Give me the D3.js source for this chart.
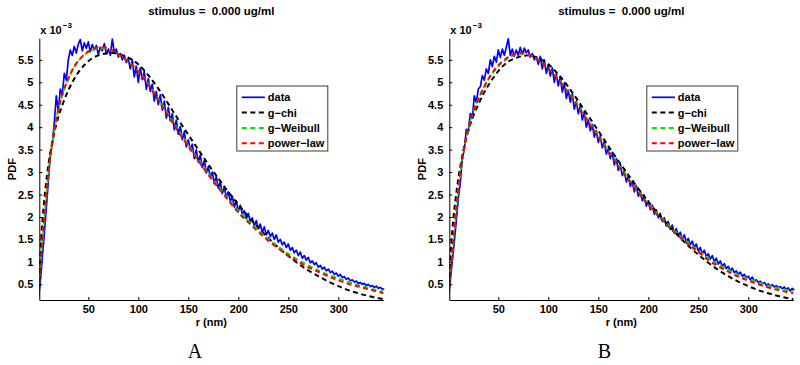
<!DOCTYPE html>
<html>
<head>
<meta charset="utf-8">
<script src="https://cdn.jsdelivr.net/npm/d3@7"></script>
<style>
    body { margin: 0; background: #fff; }
    svg text { font-family: "Liberation Sans", Arial, sans-serif; font-weight: bold; fill: #000; }
</style>
</head>
<body>
<div id="chart"></div>
<script>
// Axis limits (x in nm, y in units of 1e-3)
const xLimits = [1, 345];
const yLimits = [0.15, 5.98];
const xTicks = [50, 100, 150, 200, 250, 300];
const yTicks = [0.5, 1, 1.5, 2, 2.5, 3, 3.5, 4, 4.5, 5, 5.5];
const seriesNames = ["data", "g\u2212chi", "g\u2212Weibull", "power\u2212law"];
const seriesColors = ["#0000ff", "#000000", "#00e600", "#ff0000"];

// measured histogram, one value every 2 nm (r = 0, 2, ..., 346)
const dataR = d3.range(0, 347, 2);
const dataA = [
    0.15, 0.55, 1.1, 1.62, 2.2, 2.78, 3.4, 3.62, 4.1, 4.7,          // 0-18
    4.35, 4.85, 4.72, 5.2, 5.05, 5.5, 5.72, 5.6, 5.8, 5.65,         // 20-38
    5.85, 5.95, 5.7, 5.88, 5.76, 5.9, 5.68, 5.84, 5.72, 5.82,       // 40-58
    5.62, 5.78, 5.7, 5.86, 5.64, 5.74, 5.6, 5.96, 5.66, 5.74,       // 60-78
    5.56, 5.64, 5.5, 5.6, 5.44, 5.52, 5.3, 5.5, 5.12, 5.36,         // 80-98
    5.0, 5.32, 5.06, 5.24, 4.84, 5.08, 4.8, 4.96, 4.58, 4.8,        // 100-118
    4.5, 4.72, 4.38, 4.58, 4.2, 4.44, 4.14, 4.3, 3.94, 4.16,        // 120-138
    3.84, 4.02, 3.72, 3.9, 3.56, 3.72, 3.5, 3.62, 3.3, 3.5,         // 140-158
    3.22, 3.38, 3.1, 3.26, 2.98, 3.12, 2.88, 3.0, 2.74, 2.9,        // 160-178
    2.64, 2.78, 2.52, 2.66, 2.44, 2.56, 2.34, 2.46, 2.22, 2.36,     // 180-198
    2.12, 2.26, 2.06, 2.14, 1.96, 2.08, 1.9, 1.98, 1.8, 1.92,       // 200-218
    1.74, 1.84, 1.66, 1.78, 1.6, 1.7, 1.56, 1.64, 1.5, 1.6,         // 220-238
    1.44, 1.5, 1.38, 1.44, 1.32, 1.4, 1.26, 1.32, 1.2, 1.26,        // 240-258
    1.14, 1.22, 1.08, 1.14, 1.04, 1.1, 0.98, 1.02, 0.94, 0.98,      // 260-278
    0.88, 0.92, 0.84, 0.88, 0.8, 0.84, 0.76, 0.79, 0.72, 0.75,      // 280-298
    0.68, 0.72, 0.65, 0.67, 0.61, 0.64, 0.58, 0.6, 0.55, 0.57,      // 300-318
    0.52, 0.54, 0.5, 0.52, 0.47, 0.5, 0.45, 0.47, 0.43, 0.46,       // 320-338
    0.41, 0.43, 0.39, 0.4];                                         // 340-346
const dataB = [
    0.15, 0.6, 1.0, 1.45, 1.92, 2.42, 2.76, 3.3, 3.5, 3.95,         // 0-18
    3.9, 4.3, 4.2, 4.7, 4.55, 4.85, 4.9, 5.15, 5.05, 5.3,           // 20-38
    5.2, 5.5, 5.35, 5.58, 5.45, 5.72, 5.55, 5.74, 5.6, 5.78,        // 40-58
    5.97, 5.6, 5.74, 5.58, 5.72, 5.6, 5.78, 5.62, 5.76, 5.66,       // 60-78
    5.72, 5.56, 5.64, 5.5, 5.56, 5.4, 5.58, 5.3, 5.5, 5.2,          // 80-98
    5.38, 5.14, 5.32, 5.0, 5.2, 4.92, 5.12, 4.78, 4.98, 4.64,       // 100-118
    4.82, 4.56, 4.74, 4.4, 4.58, 4.3, 4.48, 4.16, 4.34, 4.0,        // 120-138
    4.16, 3.92, 4.06, 3.78, 3.92, 3.66, 3.82, 3.54, 3.68, 3.4,      // 140-158
    3.52, 3.3, 3.44, 3.16, 3.3, 3.04, 3.18, 2.92, 3.04, 2.78,       // 160-178
    2.92, 2.68, 2.8, 2.56, 2.7, 2.46, 2.58, 2.36, 2.48, 2.24,       // 180-198
    2.36, 2.16, 2.26, 2.06, 2.16, 1.98, 2.08, 1.9, 1.98, 1.8,       // 200-218
    1.9, 1.72, 1.82, 1.64, 1.74, 1.58, 1.66, 1.5, 1.6, 1.44,        // 220-238
    1.52, 1.38, 1.46, 1.32, 1.4, 1.24, 1.32, 1.18, 1.26, 1.12,      // 240-258
    1.18, 1.06, 1.14, 1.0, 1.08, 0.95, 1.02, 0.9, 0.96, 0.85,       // 260-278
    0.9, 0.8, 0.86, 0.76, 0.8, 0.72, 0.77, 0.68, 0.72, 0.65,        // 280-298
    0.68, 0.6, 0.66, 0.57, 0.6, 0.54, 0.57, 0.51, 0.54, 0.48,       // 300-318
    0.51, 0.46, 0.49, 0.44, 0.47, 0.42, 0.45, 0.4, 0.44, 0.38,      // 320-338
    0.42, 0.35, 0.41, 0.37];                                        // 340-346

// fitted curves
const fitR = [1, 3, 5, 7, 10, 13, 16, 20, 25, 30, 35, 40, 45, 50, 55, 60, 65, 70, 75, 80, 90, 100,
    110, 120, 130, 140, 150, 160, 170, 180, 190, 200, 210, 220, 230, 240, 250, 260, 270, 280,
    290, 300, 310, 320, 330, 340, 345];
const chiA = [0.75, 1.55, 2.15, 2.6, 3.15, 3.55, 3.88, 4.22, 4.55, 4.82, 5.04, 5.22, 5.36, 5.47, 5.55,
    5.6, 5.63, 5.65, 5.65, 5.63, 5.55, 5.4, 5.16, 4.86, 4.52, 4.17, 3.83, 3.5, 3.17, 2.86, 2.56,
    2.28, 2.01, 1.76, 1.53, 1.32, 1.13, 0.96, 0.81, 0.68, 0.56, 0.46, 0.37, 0.3, 0.24, 0.19, 0.17];
const weibullA = [0.5, 1.15, 1.72, 2.22, 2.93, 3.48, 3.93, 4.38, 4.78, 5.07, 5.3, 5.47, 5.59, 5.67, 5.72,
    5.75, 5.75, 5.73, 5.69, 5.62, 5.46, 5.25, 4.97, 4.63, 4.28, 3.93, 3.6, 3.28, 2.97, 2.68, 2.4,
    2.14, 1.91, 1.7, 1.51, 1.34, 1.18, 1.04, 0.92, 0.81, 0.71, 0.63, 0.55, 0.48, 0.42, 0.36, 0.34];
const powerA = [0.55, 1.2, 1.75, 2.25, 2.95, 3.5, 3.95, 4.4, 4.8, 5.08, 5.32, 5.48, 5.6, 5.69, 5.75,
    5.78, 5.78, 5.75, 5.7, 5.63, 5.46, 5.24, 4.95, 4.6, 4.25, 3.9, 3.57, 3.25, 2.94, 2.65, 2.37,
    2.1, 1.88, 1.67, 1.47, 1.3, 1.14, 1.0, 0.88, 0.78, 0.68, 0.59, 0.51, 0.45, 0.39, 0.33, 0.3];
const chiB = [0.65, 1.4, 1.95, 2.35, 2.85, 3.25, 3.58, 3.92, 4.25, 4.5, 4.74, 4.93, 5.1, 5.25, 5.37,
    5.46, 5.52, 5.56, 5.59, 5.6, 5.54, 5.4, 5.18, 4.9, 4.58, 4.25, 3.92, 3.58, 3.25, 2.94, 2.63,
    2.34, 2.07, 1.82, 1.58, 1.36, 1.16, 0.98, 0.82, 0.68, 0.56, 0.46, 0.37, 0.3, 0.24, 0.19, 0.17];
const weibullB = [0.42, 0.92, 1.42, 1.92, 2.57, 3.12, 3.53, 3.96, 4.34, 4.62, 4.86, 5.06, 5.23, 5.36, 5.46,
    5.54, 5.6, 5.63, 5.64, 5.62, 5.5, 5.31, 5.07, 4.78, 4.47, 4.14, 3.81, 3.48, 3.16, 2.86, 2.57,
    2.3, 2.05, 1.82, 1.61, 1.42, 1.25, 1.08, 0.94, 0.82, 0.71, 0.62, 0.54, 0.47, 0.41, 0.36, 0.34];
const powerB = [0.45, 0.95, 1.45, 1.95, 2.6, 3.15, 3.55, 3.98, 4.35, 4.62, 4.86, 5.07, 5.24, 5.38, 5.48,
    5.56, 5.62, 5.65, 5.66, 5.63, 5.5, 5.3, 5.05, 4.76, 4.44, 4.11, 3.78, 3.45, 3.13, 2.83, 2.54,
    2.27, 2.02, 1.79, 1.58, 1.39, 1.22, 1.04, 0.9, 0.78, 0.67, 0.58, 0.5, 0.43, 0.37, 0.32, 0.3];

const titleText = "stimulus =  0.000 ug/ml";

const totalW = 800, totalH = 365;
const plotTop = 38.3, plotBottom = 300, plotWidth = 344;

const svg = d3.select("#chart")
    .append("svg")
    .attr("width", totalW)
    .attr("height", totalH);

svg.append("rect").attr("width", totalW).attr("height", totalH).attr("fill", "#fff");

function drawPanel(id, left, data, chi, weibull, power, caption, captionX) {
    const right = left + plotWidth;
    const x = d3.scaleLinear().domain(xLimits).range([left, right]);
    const y = d3.scaleLinear().domain(yLimits).range([plotBottom, plotTop]);

    const g = svg.append("g");

    g.append("clipPath")
        .attr("id", "clip" + id)
        .append("rect")
        .attr("x", left).attr("y", plotTop - 2)
        .attr("width", plotWidth + 2).attr("height", plotBottom - plotTop + 2);

    const line = d3.line().x(d => x(d[0])).y(d => y(d[1]));
    const smooth = d3.line().x(d => x(d[0])).y(d => y(d[1])).curve(d3.curveMonotoneX);

    const lines = g.append("g").attr("clip-path", `url(#clip${id})`);

    lines.append("path")
        .attr("d", line(dataR.map((r, i) => [r, data[i]])))
        .attr("fill", "none")
        .attr("stroke", seriesColors[0])
        .attr("stroke-width", 1.7)
        .attr("stroke-linejoin", "round");

    [chi, weibull, power].forEach((vals, k) => {
        lines.append("path")
            .attr("d", smooth(fitR.map((r, i) => [r, vals[i]])))
            .attr("fill", "none")
            .attr("stroke", seriesColors[k + 1])
            .attr("stroke-width", 2)
            .attr("stroke-dasharray", "5,3.5");
    });

    // axes: ticks point inwards like MATLAB
    const xAxis = g.append("g")
        .attr("transform", `translate(0, ${plotBottom})`)
        .call(d3.axisBottom(x).tickValues(xTicks).tickSizeInner(-3).tickSizeOuter(0).tickPadding(5));
    const yAxis = g.append("g")
        .attr("transform", `translate(${left}, 0)`)
        .call(d3.axisLeft(y).tickValues(yTicks).tickSizeInner(-3).tickSizeOuter(0).tickPadding(6)
            .tickFormat(d3.format("")));

    [xAxis, yAxis].forEach(a => {
        a.selectAll("text").style("font-size", "11px");
        a.select(".domain").attr("stroke", "#000").attr("stroke-width", 1);
        a.selectAll(".tick line").attr("stroke", "#000");
    });

    // title (keeps the double space)
    g.append("text")
        .attr("x", (left + right) / 2)
        .attr("y", 15)
        .attr("text-anchor", "middle")
        .attr("xml:space", "preserve")
        .style("white-space", "pre")
        .style("font-size", "11.5px")
        .text(titleText);

    // exponent label
    const expo = g.append("text")
        .attr("x", left + 1)
        .attr("y", 34)
        .style("font-size", "11px");
    expo.append("tspan").text("x 10");
    expo.append("tspan").attr("dy", -6).attr("dx", 1).style("font-size", "8px").text("\u22123");

    // axis labels
    g.append("text")
        .attr("transform", `translate(${left - 23}, ${(plotTop + plotBottom) / 2}) rotate(-90)`)
        .attr("text-anchor", "middle")
        .style("font-size", "11px")
        .text("PDF");

    g.append("text")
        .attr("x", (left + right) / 2)
        .attr("y", 326)
        .attr("text-anchor", "middle")
        .style("font-size", "11px")
        .text("r (nm)");

    // legend
    const legX = right - 146.5, legY = 86;
    const legend = g.append("g");
    legend.append("rect")
        .attr("x", legX).attr("y", legY)
        .attr("width", 91).attr("height", 65)
        .attr("fill", "#fff")
        .attr("stroke", "#3c3c3c")
        .attr("stroke-width", 1);

    seriesNames.forEach((name, i) => {
        const ly = legY + 11.3 + i * 15.3;
        legend.append("line")
            .attr("x1", legX + 5).attr("x2", legX + 28)
            .attr("y1", ly).attr("y2", ly)
            .attr("stroke", seriesColors[i])
            .attr("stroke-width", i === 0 ? 1.7 : 2)
            .attr("stroke-dasharray", i === 0 ? null : "5,3.5");
        legend.append("text")
            .attr("x", legX + 31)
            .attr("y", ly)
            .attr("dy", "0.36em")
            .style("font-size", "11px")
            .text(name);
    });

    // panel caption
    svg.append("text")
        .attr("x", captionX)
        .attr("y", 358)
        .attr("text-anchor", "middle")
        .style("font-family", "'Liberation Serif', 'DejaVu Serif', serif")
        .style("font-weight", "normal")
        .style("font-size", "20px")
        .text(caption);
}

drawPanel("A", 39.3, dataA, chiA, weibullA, powerA, "A", 195);
drawPanel("B", 449.3, dataB, chiB, weibullB, powerB, "B", 604.5);
</script>
</body>
</html>
